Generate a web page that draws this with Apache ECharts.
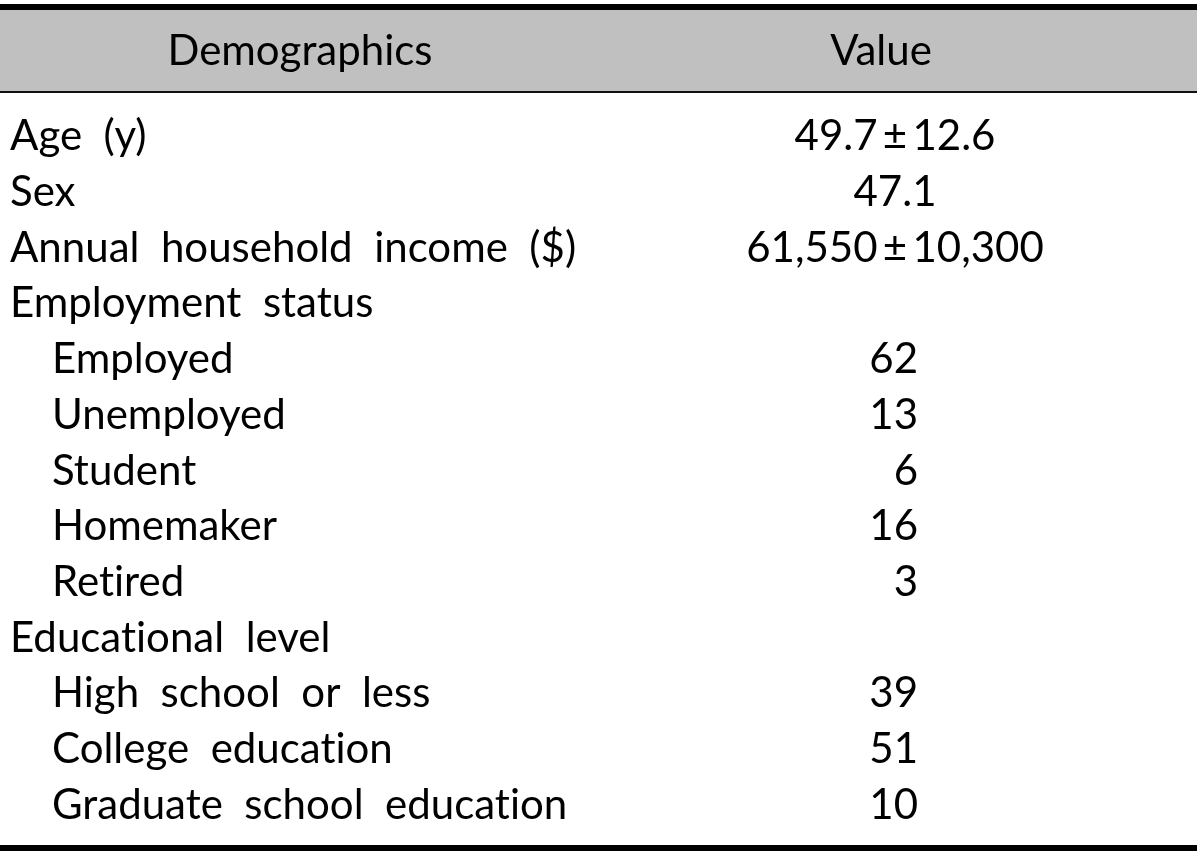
<!DOCTYPE html>
<html><head><meta charset="utf-8">
<script src="https://cdn.jsdelivr.net/npm/echarts@6/dist/echarts.min.js"></script>
<style>html,body{margin:0;padding:0;background:#fff}#c{width:1200px;height:856px}</style>
</head><body><div id="c"></div>
<script>
const headers = ['Demographics', 'Value'];
const rowLabels = ['Age  (y)', 'Sex', 'Annual  household  income  ($)', 'Employment  status', 'Employed', 'Unemployed', 'Student', 'Homemaker', 'Retired', 'Educational  level', 'High  school  or  less', 'College  education', 'Graduate  school  education'];
const rowLevels = [0, 0, 0, 0, 1, 1, 1, 1, 1, 0, 1, 1, 1];
const rowValues = ['49.7\u2009±\u200912.6', '47.1', '61,550\u2009±\u200910,300', '', '62', '13', '6', '16', '3', '', '39', '51', '10'];

const FONT = 'Lato';
const FS = 42;
const chart = echarts.init(document.getElementById('c'), null, {renderer: 'canvas'});
const rowIdx = rowLabels.map((_, i) => i);
// break "ti" ligatures so glyphs look like the reference
const noLig = s => s.replace(/ti/g, 't\u200Ci');

chart.setOption({
  animation: false,
  grid: {left: 0, right: 0, top: 109, bottom: 23},
  xAxis: {type: 'value', min: 0, max: 1200, show: false},
  yAxis: {type: 'category', data: rowLabels, inverse: true, show: false},
  graphic: [
    {type: 'rect', shape: {x: 0, y: 10, width: 1197, height: 81}, style: {fill: '#c0c0c0'}},
    {type: 'rect', shape: {x: 0, y: 4, width: 1197, height: 6}, style: {fill: '#000'}},
    {type: 'rect', shape: {x: 0, y: 91, width: 1197, height: 2}, style: {fill: '#111'}},
    {type: 'rect', shape: {x: 0, y: 845, width: 1197, height: 6}, style: {fill: '#000'}},
    {type: 'text', x: 300, y: 51, style: {text: headers[0], font: FS + 'px ' + FONT, fill: '#000', align: 'center', verticalAlign: 'middle'}},
    {type: 'text', x: 881, y: 51, style: {text: headers[1], font: FS + 'px ' + FONT, fill: '#000', align: 'center', verticalAlign: 'middle'}}
  ],
  series: [
    {
      type: 'custom',
      data: rowIdx.map(i => [10 + 42 * rowLevels[i], i]),
      encode: {x: 0, y: 1},
      renderItem: function (params, api) {
        const p = api.coord([api.value(0), api.value(1)]);
        return {type: 'text', x: p[0], y: p[1], style: {text: noLig(rowLabels[params.dataIndex]), font: FS + 'px ' + FONT, fill: '#000', align: 'left', verticalAlign: 'middle'}};
      }
    },
    {
      type: 'custom',
      data: rowIdx.map(i => [rowValues[i].match(/[.±]/) ? 895 : 918, i]),
      encode: {x: 0, y: 1},
      renderItem: function (params, api) {
        const p = api.coord([api.value(0), api.value(1)]);
        const t = rowValues[params.dataIndex];
        return {type: 'text', x: p[0], y: p[1], style: {text: t, font: FS + 'px ' + FONT, fill: '#000', align: t.match(/[.±]/) ? 'center' : 'right', verticalAlign: 'middle'}};
      }
    }
  ]
});
</script></body></html>
